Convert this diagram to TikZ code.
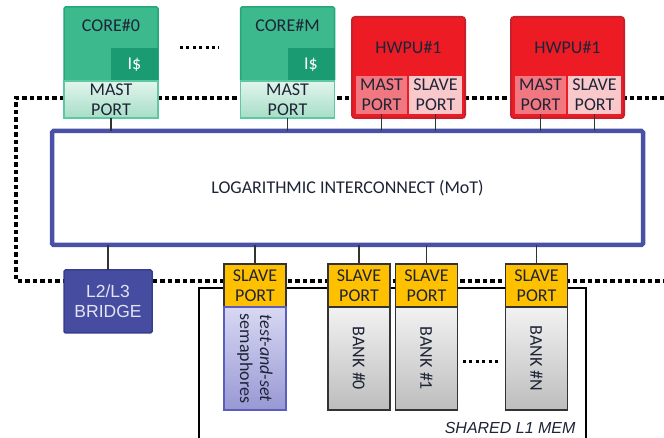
\documentclass[tikz,border=0pt]{standalone}
\usepackage{fontspec}
\setmainfont{Carlito}
\newfontfamily\arialfont{Liberation Sans}
\usepackage{xcolor}
\usepackage{tikz}
\usetikzlibrary{positioning}
\definecolor{textdark}{HTML}{1E2437}
\definecolor{coregreen}{HTML}{3DB98E}
\definecolor{coreline}{HTML}{25A77C}
\definecolor{cachegreen}{HTML}{1B9B71}
\definecolor{mintlight}{HTML}{E2F5ED}
\definecolor{mintdark}{HTML}{A6DEC7}
\definecolor{mintline}{HTML}{5EC8A0}
\definecolor{hwpured}{HTML}{ED1C24}
\definecolor{hwpuline}{HTML}{C8202C}
\definecolor{mastred}{HTML}{F17880}
\definecolor{slavepink}{HTML}{F9C8CA}
\definecolor{icblue}{HTML}{4950A6}
\definecolor{bridgeblue}{HTML}{464CA0}
\definecolor{bridgeline}{HTML}{383D8E}
\definecolor{bridgetext}{HTML}{E2E3F3}
\definecolor{portyellow}{HTML}{FFC000}
\definecolor{semlight}{HTML}{D8D8F3}
\definecolor{semdark}{HTML}{9898D4}
\definecolor{semline}{HTML}{5A5FBE}
\definecolor{banklight}{HTML}{F2F2F2}
\definecolor{bankdark}{HTML}{BDBDBD}
\definecolor{linedark}{HTML}{333333}
\tikzset{
  corebox/.style={draw=coreline, fill=coregreen, line width=1.5pt, rounded corners=1.5pt, outer sep=0pt, minimum width=94pt, minimum height=74pt},
  cachebox/.style={fill=cachegreen, outer sep=0pt, minimum width=47pt, minimum height=33pt, text=white},
  mastport/.style={draw=mintline, top color=mintlight, bottom color=mintdark, line width=1.2pt, outer sep=0pt, align=center, inner sep=0pt, minimum width=94pt, minimum height=37pt},
  hwpubox/.style={draw=hwpuline, fill=hwpured, line width=2pt, rounded corners=3pt, outer sep=0pt, minimum width=113pt, minimum height=101pt},
  hwmast/.style={fill=mastred, outer sep=0pt, align=center, inner sep=0pt, minimum width=51pt, minimum height=38pt},
  hwslave/.style={fill=slavepink, outer sep=0pt, align=center, inner sep=0pt, minimum width=53pt, minimum height=38pt},
  icbox/.style={draw=icblue, fill=white, line width=4.5pt, rounded corners=1.5pt, outer sep=0pt, minimum width=591pt, minimum height=114pt},
  bridgebox/.style={draw=bridgeline, fill=bridgeblue, line width=1.5pt, rounded corners=1.5pt, outer sep=0pt, align=center, inner sep=0pt, minimum width=88pt, minimum height=63pt, text=bridgetext, font=\arialfont\fontsize{17.5}{20}\selectfont},
  slaveport/.style={draw=linedark, fill=portyellow, line width=1.5pt, outer sep=0pt, align=center, inner sep=0pt, minimum width=62pt, minimum height=43pt},
  bankbox/.style={draw=linedark, top color=banklight, bottom color=bankdark, line width=1.5pt, outer sep=0pt, inner sep=0pt, minimum width=62pt, minimum height=103pt},
  sembox/.style={draw=semline, top color=semlight, bottom color=semdark, line width=1.5pt, outer sep=0pt, inner sep=0pt, minimum width=62pt, minimum height=103pt},
  vtext/.style={rotate=-90, align=center},
  wire/.style={draw=linedark, line width=1.5pt},
  bus/.style={draw=black, line width=4pt, dash pattern=on 4.5pt off 3pt},
  smalldots/.style={draw=black, line width=3pt, dash pattern=on 3pt off 3.4pt},
  memframe/.style={draw=black, line width=2.3pt},
  memlabel/.style={font=\arialfont\itshape\fontsize{16}{18}\selectfont}
}
\begin{document}
\begin{tikzpicture}[x=1pt, y=-1pt, font=\fontsize{18}{20}\selectfont, text=textdark]
  \useasboundingbox (0,0) rectangle (664,438);

  \coordinate (bustl) at (16,98);
  \coordinate (bustr) at (664,98);
  \coordinate (busbl) at (16,281);
  \coordinate (busbr) at (664,281);
  \draw[bus] (bustr) -- (bustl) -- (busbl) -- (busbr);

  \coordinate (memtl) at (199,288);
  \coordinate (memtr) at (586,288);
  \coordinate (membl) at (199,440);
  \coordinate (membr) at (586,440);
  \draw[memframe] (membl) -- (memtl) -- (memtr) -- (membr);

  \node[corebox] (core0) at (111,44) {};
  \node (core0t) at (111,25) {CORE\#0};
  \node[cachebox, anchor=south east] (cache0) at (core0.south east) {I\$};
  \node[mastport, below=0pt of core0] (mp0) {MAST\\PORT};

  \node[corebox] (corem) at (287.5,44) {};
  \node (coremt) at (287.5,25) {CORE\#M};
  \node[cachebox, anchor=south east] (cachem) at (corem.south east) {I\$};
  \node[mastport, below=0pt of corem] (mpm) {MAST\\PORT};

  \coordinate (cdotsl) at (180,48);
  \coordinate (cdotsr) at (219,48);
  \draw[smalldots] (cdotsl) -- (cdotsr);

  \node[hwpubox] (hw1) at (408.5,67.5) {};
  \node (hw1t) at (408.5,47) {HWPU\#1};
  \node[hwmast] (hw1m) at (381.5,95) {MAST\\PORT};
  \node[hwslave] (hw1s) at (435.5,95) {SLAVE\\PORT};

  \node[hwpubox] (hw2) at (567.5,67.5) {};
  \node (hw2t) at (567.5,47) {HWPU\#1};
  \node[hwmast] (hw2m) at (540.5,95) {MAST\\PORT};
  \node[hwslave] (hw2s) at (594.5,95) {SLAVE\\PORT};

  \node[icbox] (ic) at (347.5,188) {LOGARITHMIC INTERCONNECT (MoT)};

  \node[bridgebox] (bridge) at (108,301.5) {L2/L3\\BRIDGE};

  \node[slaveport] (semp) at (255,285.5) {SLAVE\\PORT};
  \node[sembox, below=0pt of semp] (sem) {};
  \node[vtext] (semt) at (sem.center) {\itshape test-and-set\\semaphores};

  \node[slaveport] (b0p) at (359,285.5) {SLAVE\\PORT};
  \node[bankbox, below=0pt of b0p] (b0) {};
  \node[vtext] (b0t) at (b0.center) {BANK \#0};

  \node[slaveport] (b1p) at (426.5,285.5) {SLAVE\\PORT};
  \node[bankbox, below=0pt of b1p] (b1) {};
  \node[vtext] (b1t) at (b1.center) {BANK \#1};

  \node[slaveport] (bnp) at (536.5,285.5) {SLAVE\\PORT};
  \node[bankbox, below=0pt of bnp] (bn) {};
  \node[vtext] (bnt) at (bn.center) {BANK \#N};

  \coordinate (bdotsl) at (463,361);
  \coordinate (bdotsr) at (501,361);
  \draw[smalldots] (bdotsl) -- (bdotsr);

  \node[memlabel, anchor=base east] (meml) at (579,433) {SHARED L1 MEM};

  \draw[wire] (mp0.south) -- (mp0.south |- ic.north);
  \draw[wire] (mpm.south) -- (mpm.south |- ic.north);
  \draw[wire] (hw1m.south) -- (hw1m.south |- ic.north);
  \draw[wire] (hw1s.south) -- (hw1s.south |- ic.north);
  \draw[wire] (hw2m.south) -- (hw2m.south |- ic.north);
  \draw[wire] (hw2s.south) -- (hw2s.south |- ic.north);

  \draw[wire] (ic.south -| bridge.north) -- (bridge.north);
  \draw[wire] (ic.south -| semp.north) -- (semp.north);
  \draw[wire] (ic.south -| b0p.north) -- (b0p.north);
  \draw[wire] (ic.south -| b1p.north) -- (b1p.north);
  \draw[wire] (ic.south -| bnp.north) -- (bnp.north);
\end{tikzpicture}
\end{document}
